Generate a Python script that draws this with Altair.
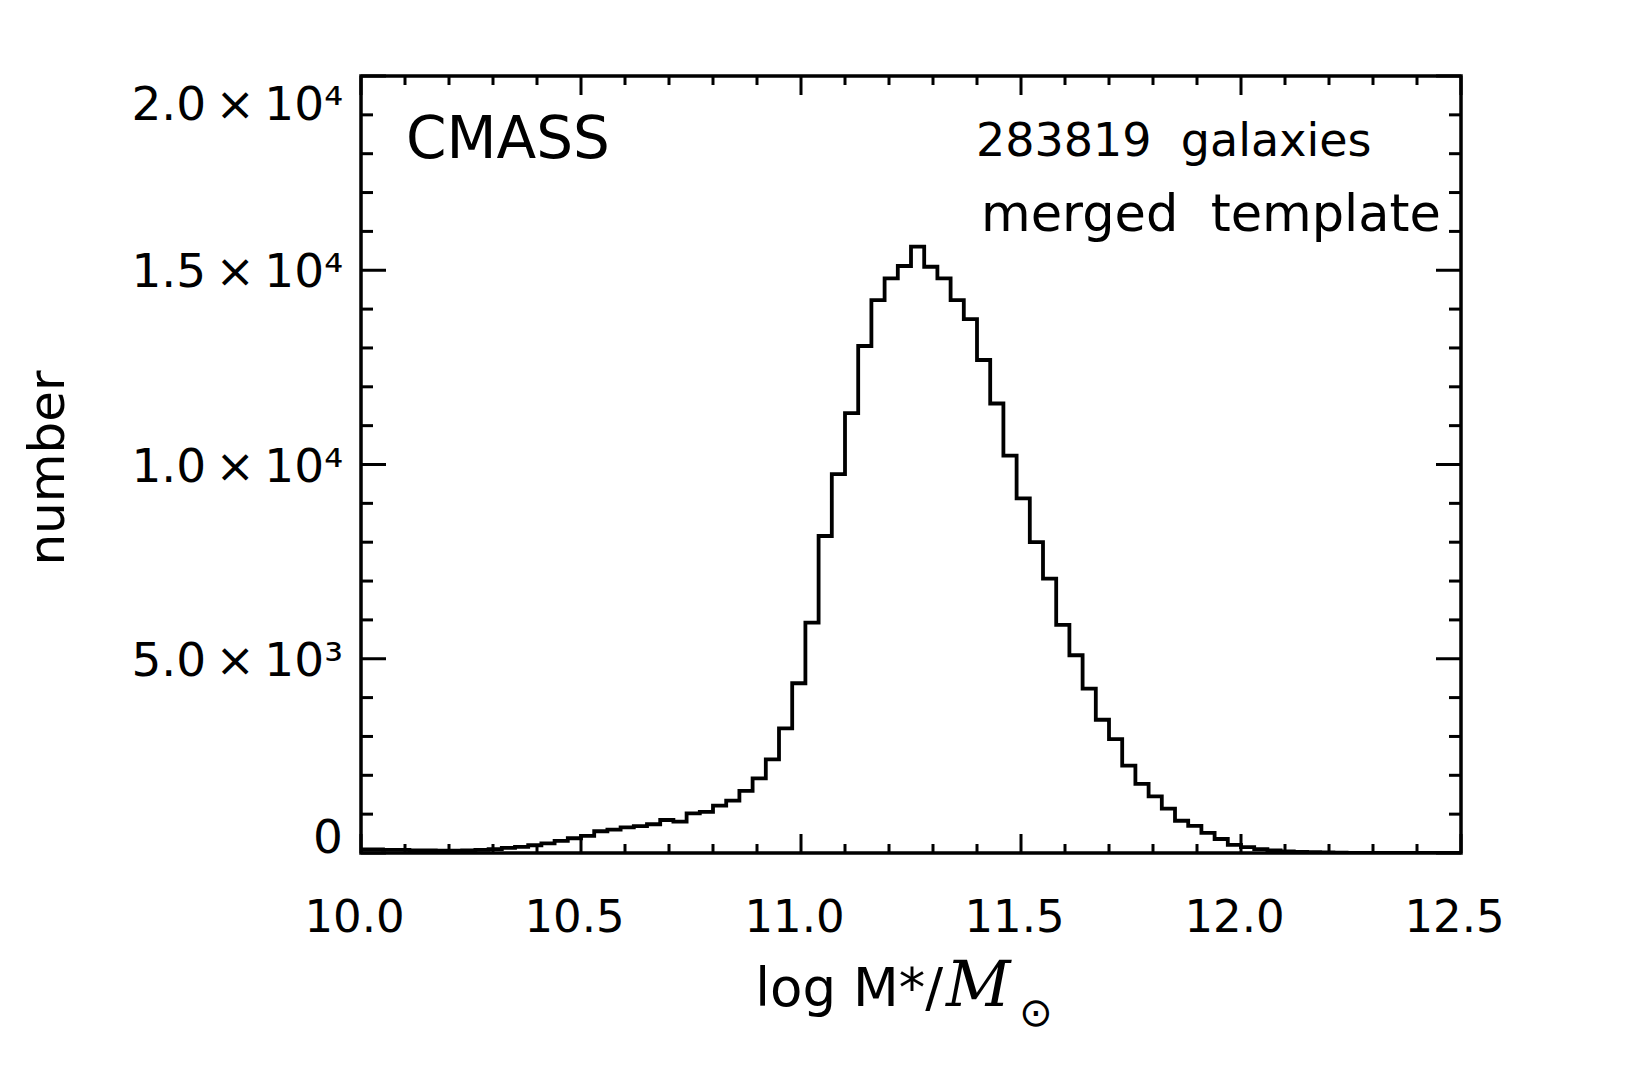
import altair as alt
import pandas as pd

# ---- data ----
bin_left_edges = [
    9.99, 10.02, 10.05, 10.08, 10.11, 10.14, 10.17, 10.20, 10.23, 10.26,
    10.29, 10.32, 10.35, 10.38, 10.41, 10.44, 10.47, 10.50, 10.53, 10.56,
    10.59, 10.62, 10.65, 10.68, 10.71, 10.74, 10.77, 10.80, 10.83, 10.86,
    10.89, 10.92, 10.95, 10.98, 11.01, 11.04, 11.07, 11.10, 11.13, 11.16,
    11.19, 11.22, 11.25, 11.28, 11.31, 11.34, 11.37, 11.40, 11.43, 11.46,
    11.49, 11.52, 11.55, 11.58, 11.61, 11.64, 11.67, 11.70, 11.73, 11.76,
    11.79, 11.82, 11.85, 11.88, 11.91, 11.94, 11.97, 12.00, 12.03, 12.06,
    12.09, 12.12, 12.15, 12.18, 12.21, 12.24, 12.27, 12.30, 12.33, 12.36,
    12.39, 12.42, 12.45, 12.48,
]
bin_counts = [
    90, 90, 80, 80, 70, 70, 60, 60, 70, 80,
    100, 130, 160, 200, 250, 310, 380, 440, 560, 600,
    660, 690, 740, 850, 810, 1020, 1060, 1220, 1350, 1600,
    1920, 2410, 3210, 4370, 5930, 8160, 9750, 11320, 13050, 14230,
    14790, 15110, 15610, 15090, 14790, 14230, 13740, 12690, 11570, 10230,
    9130, 8000, 7060, 5870, 5090, 4230, 3430, 2930, 2250, 1780,
    1460, 1140, 830, 700, 520, 360, 210, 150, 100, 70,
    40, 30, 20, 15, 10, 5, 3, 0, 0, 0,
    0, 0, 0, 0,
]
bin_width = 0.03

x_major = [10.0, 10.5, 11.0, 11.5, 12.0, 12.5]
x_minor = [10.1, 10.2, 10.3, 10.4, 10.6, 10.7, 10.8, 10.9, 11.1, 11.2,
           11.3, 11.4, 11.6, 11.7, 11.8, 11.9, 12.1, 12.2, 12.3, 12.4]
y_major = [0, 5000, 10000, 15000, 20000]
y_minor = [1000, 2000, 3000, 4000, 6000, 7000, 8000, 9000, 11000, 12000,
           13000, 14000, 16000, 17000, 18000, 19000]
y_major_labels = ["0", "5.0\u2009×\u200910³", "1.0\u2009×\u200910⁴",
                  "1.5\u2009×\u200910⁴", "2.0\u2009×\u200910⁴"]

label_sample = "CMASS"
label_count = "283819\u00a0 galaxies"
label_template = "merged\u00a0 template"
y_title = "number"
x_title_main = "log M*/"
x_title_m = "M"
x_title_sun = "⊙"

# ---- build ----
W, H = 1100, 777
FONT = "DejaVu Sans"

line_df = pd.DataFrame({
    "x": bin_left_edges + [bin_left_edges[-1] + bin_width],
    "y": bin_counts + [bin_counts[-1]],
})

x_scale = alt.Scale(domain=[10, 12.5], nice=False, zero=False)
y_scale = alt.Scale(domain=[0, 20000], nice=False, zero=False)

x_axis = alt.Axis(
    values=x_major, format=".1f", title=None, ticks=False, tickSize=0,
    domain=False, grid=False, labelFont=FONT, labelFontSize=45,
    labelColor="black", labelPadding=42, labelFlush=False, labelOffset=-7)

hist = alt.Chart(line_df).mark_line(
    interpolate="step-after", color="black", strokeWidth=3.8, clip=True
).encode(
    x=alt.X("x:Q", scale=x_scale, axis=x_axis, title=None),
    y=alt.Y("y:Q", scale=y_scale, axis=None, title=None),
)


def ticks(values, side, length):
    df = pd.DataFrame({"x": values, "y": values})
    base = alt.Chart(df).mark_rule(color="black", strokeWidth=3)
    if side in ("bottom", "top"):
        enc = dict(x=alt.X("x:Q", scale=x_scale, axis=x_axis, title=None))
        if side == "bottom":
            enc.update(y=alt.value(H), y2=alt.value(H - length))
        else:
            enc.update(y=alt.value(0), y2=alt.value(length))
    else:
        enc = dict(y=alt.Y("y:Q", scale=y_scale, axis=None, title=None))
        if side == "left":
            enc.update(x=alt.value(0), x2=alt.value(length))
        else:
            enc.update(x=alt.value(W), x2=alt.value(W - length))
    return base.encode(**enc)


tick_layers = [
    ticks(x_major, "bottom", 19), ticks(x_minor, "bottom", 9),
    ticks(x_major, "top", 19), ticks(x_minor, "top", 9),
    ticks(y_major, "left", 25), ticks(y_minor, "left", 12),
    ticks(y_major, "right", 25), ticks(y_minor, "right", 12),
]

# y tick labels as text marks placed through the y scale
ylab_df = pd.DataFrame({"y": y_major, "lab": y_major_labels})


def ylabels(select, baseline, dy):
    return alt.Chart(ylab_df).transform_filter(select).mark_text(
        font=FONT, fontSize=47, align="right", baseline=baseline,
        color="black", dx=-18, dy=dy
    ).encode(
        y=alt.Y("y:Q", scale=y_scale, axis=None, title=None),
        x=alt.value(0), text="lab:N")


ylabel_layers = [
    ylabels("datum.y == 0", "alphabetic", 0),
    ylabels("datum.y > 0 && datum.y < 20000", "middle", 3),
    ylabels("datum.y == 20000", "alphabetic", 44),
]


def text(t, x, y, size, align="left", baseline="alphabetic", font=FONT,
         style="normal", angle=0):
    kw = dict(font=font, fontSize=size, align=align, baseline=baseline,
              color="black", fontStyle=style)
    if angle:
        kw["angle"] = angle
    return alt.Chart(pd.DataFrame({"t": [t]})).mark_text(**kw).encode(
        text="t:N", x=alt.value(x), y=alt.value(y))


texts = [
    text(label_sample, 45, 82, 58),
    text(label_count, 615, 80, 46),
    text(label_template, 620, 155, 51),
    text(y_title, -312, 392, 50, align="center", baseline="middle", angle=270),
    text(x_title_main, 582, 930, 53, align="right"),
    text(x_title_m, 585, 930, 63, font="DejaVu Serif", style="italic"),
    text(x_title_sun, 658, 950, 40),
]

chart = alt.layer(hist, *tick_layers, *ylabel_layers, *texts).properties(
    width=W, height=H,
    autosize=alt.AutoSizeParams(type="none"),
    padding={"left": 353, "top": 68, "right": 163, "bottom": 190},
).configure(
    background="white"
).configure_view(
    stroke="black", strokeWidth=3.5
)

chart.save("out.html", embed_options={"renderer": "svg", "actions": False})
